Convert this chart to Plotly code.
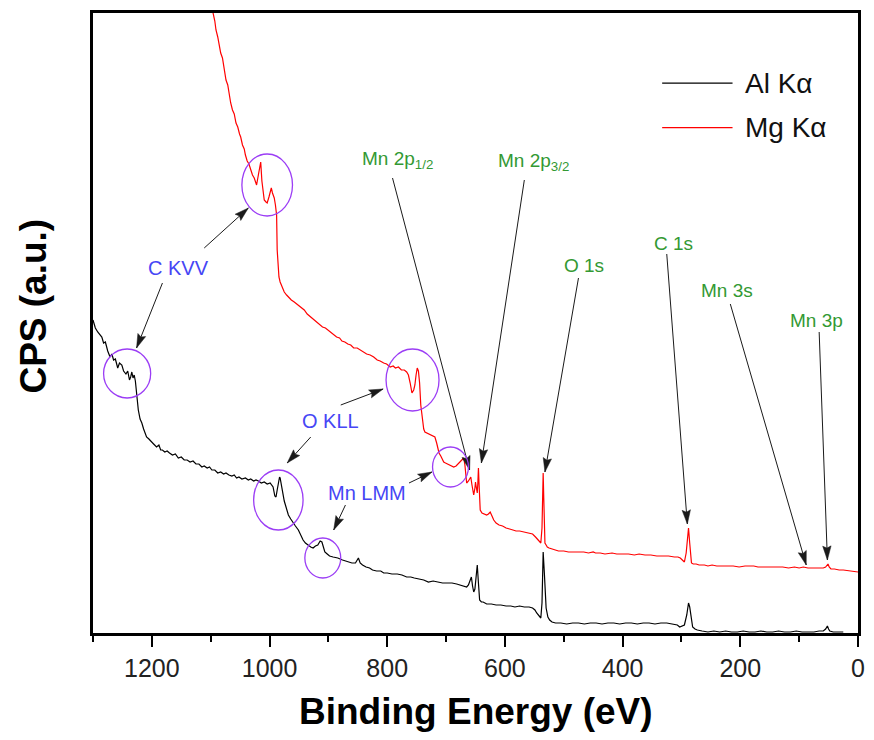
import math
import plotly.graph_objects as go

# ---- Survey spectra (binding energy in eV, intensity in arbitrary CPS units) ----
al_be = [1300, 1296, 1292, 1288, 1285, 1282, 1279, 1275, 1271, 1268, 1265, 1262, 1258, 1255, 1251,
         1248, 1244, 1241, 1238, 1236, 1234, 1232, 1230, 1228, 1226, 1223, 1220, 1217, 1214, 1212,
         1209, 1205, 1201, 1197, 1192, 1188, 1185, 1182, 1178, 1174, 1170, 1165, 1160, 1155, 1150,
         1145, 1140, 1135, 1130, 1125, 1120, 1115, 1111, 1106, 1102, 1098, 1093, 1088, 1083, 1078,
         1074, 1069, 1064, 1060, 1056, 1052, 1047, 1041, 1036, 1032, 1027, 1023, 1019, 1014, 1009,
         1004, 999, 996, 994, 991, 989, 987, 985, 983, 982, 980, 978, 975, 973, 970, 968, 964, 961,
         956, 951, 947, 943, 939, 935, 930, 926, 922, 918, 914, 911, 908, 906, 902, 898, 892, 884,
         876, 867, 860, 854, 851, 849, 846, 842, 836, 830, 825, 818, 811, 806, 800, 792, 783, 775,
         767, 760, 754, 746, 738, 730, 722, 714, 706, 699, 690, 682, 675, 669, 665, 662, 660, 657,
         655, 653, 651, 649, 647, 645, 643, 640, 637, 631, 623, 615, 607, 598, 590, 583, 575, 567,
         559, 553, 549, 546, 542, 539, 537, 535, 533, 532, 530, 527, 524, 520, 514, 505, 495, 485,
         475, 465, 455, 445, 435, 425, 415, 405, 395, 385, 375, 365, 355, 345, 335, 325, 315, 307,
         303, 299, 295, 291, 288, 286, 285, 283, 281, 277, 273, 265, 255, 245, 235, 225, 215, 205,
         195, 185, 175, 165, 155, 145, 135, 125, 115, 105, 95, 85, 75, 66, 59, 55, 52, 50, 48, 42,
         34, 25]
al_cps = [313, 305, 301, 298, 296, 290, 291, 282, 276, 279, 273, 274, 265, 270, 268,
          262, 259, 262, 253, 256, 261, 255, 258, 252, 240, 223, 214, 210, 204, 201,
          196, 194, 191, 189, 186, 188, 183, 183, 181, 182, 180, 178, 179, 175, 176,
          173, 173, 171, 172, 169, 169, 166, 167, 165, 166, 163, 163, 160, 161, 159,
          160, 158, 157, 158, 155, 156, 154, 155, 153, 154, 152, 153, 152, 150, 151,
          149, 150, 148, 146, 137, 136, 143, 150, 156, 155, 147, 140, 132, 128, 121, 118, 114, 111,
          107, 103, 98, 93, 90, 88, 86, 85, 87, 88, 92, 91, 85, 81, 79, 77, 76, 75,
          73, 71, 70, 70, 74, 75, 70, 68, 66, 65, 63, 62, 62, 60, 60, 59, 59, 58,
          56, 56, 55, 54, 53, 51, 52, 51, 50, 50, 50, 49, 48, 47, 46, 48, 52, 56,
          47, 41, 44, 55, 68, 50, 33, 31, 31, 29, 29, 28, 28, 27, 27, 26, 27, 26,
          26, 25, 23, 20, 17, 15, 30, 81, 60, 43, 25, 16, 13, 11, 10, 10, 9, 10,
          10, 9, 10, 10, 9, 10, 10, 9, 10, 10, 9, 10, 10, 9, 10, 10, 9, 8,
          6, 7, 8, 18, 30, 26, 21, 12, 6, 4, 3, 2, 1, 2, 1, 2, 1, 1,
          2, 1, 1, 2, 1, 1, 2, 1, 1, 2, 1, 1, 1, 2, 2, 4, 7, 4, 2, 1,
          1, 1]

mg_be = [1102, 1096, 1093, 1091, 1088, 1085, 1083, 1080, 1077, 1074, 1071, 1068, 1066, 1063, 1060,
         1057, 1054, 1051, 1049, 1046, 1043, 1041, 1038, 1035, 1032, 1029, 1026, 1024, 1022, 1019,
         1017, 1015, 1013, 1011, 1009, 1006, 1004, 1001, 999, 997, 995, 992, 990, 988, 987, 985,
         984, 982, 979, 975, 971, 968, 963, 958, 951, 946, 941, 936, 930, 925, 920, 915, 910, 905,
         901, 896, 891, 886, 881, 877, 872, 867, 862, 857, 851, 845, 840, 835, 829, 823, 817, 812,
         806, 801, 795, 790, 786, 781, 776, 771, 767, 764, 761, 758, 755, 753, 751, 749, 747, 745,
         743, 740, 738, 736, 733, 730, 727, 723, 719, 716, 714, 712, 709, 706, 704, 701, 698, 695,
         691, 687, 683, 680, 677, 673, 670, 668, 666, 665, 662, 660, 658, 656, 654, 653, 651, 650,
         649, 647, 646, 645, 644, 642, 639, 636, 633, 631, 628, 625, 622, 619, 615, 610, 604, 598,
         592, 587, 581, 575, 567, 559, 553, 548, 545, 542, 539, 537, 536, 535, 534, 533, 532, 530,
         528, 525, 520, 515, 509, 500, 492, 483, 475, 466, 458, 450, 446, 438, 430, 422, 418, 410,
         400, 390, 380, 372, 362, 352, 342, 332, 322, 312, 306, 302, 298, 295, 292, 290, 288, 286,
         285, 283, 280, 275, 270, 265, 261, 255, 248, 240, 232, 222, 212, 202, 192, 182, 177, 170,
         160, 150, 138, 128, 118, 108, 100, 93, 85, 75, 66, 59, 55, 52, 51, 49, 46, 40, 32, 25,
         15, 8, 0]
mg_cps = [660, 620, 612, 603, 596, 586, 580, 575, 562, 553, 548, 536, 530, 523, 519,
          510, 506, 499, 496, 488, 484, 478, 472, 469, 463, 458, 455, 450, 448, 458,
          465, 471, 452, 440, 433, 431, 430, 436, 441, 445, 440, 435, 428, 418, 383, 363,
          356, 351, 346, 341, 338, 336, 333, 331, 328, 325, 323, 319, 316, 313, 311, 308, 306, 305,
          303, 300, 298, 296, 295, 292, 291, 289, 288, 285, 285, 283, 281, 279, 278, 276, 273, 272,
          270, 269, 266, 267, 265, 266, 263, 263, 261, 258, 250, 240, 243, 248, 258, 265, 262, 250,
          228, 212, 204, 201, 200, 199, 198, 197, 196, 190, 186, 180, 177, 174, 171, 170, 169, 168,
          167, 166, 167, 169, 171, 174, 175, 168, 155, 150, 152, 155, 156, 148, 140, 138, 145, 151,
          147, 140, 150, 165, 150, 123, 120, 119, 118, 118, 119, 121, 117, 113, 110, 108, 107, 105,
          104, 103, 102, 102, 101, 100, 99, 96, 94, 92, 90, 105, 130, 160, 135, 100, 90, 88,
          86, 85, 84, 83, 82, 82, 81, 81, 81, 81, 80, 81, 80, 80, 79, 80, 80, 79,
          79, 79, 78, 79, 78, 78, 77, 77, 77, 76, 76, 75, 73, 71, 80, 95, 105, 90,
          80, 70, 69, 69, 68, 68, 68, 67, 68, 67, 67, 67, 67, 66, 67, 67, 67, 66,
          66, 66, 66, 66, 65, 66, 65, 66, 65, 65, 65, 65, 66, 68, 69, 66, 64, 64, 63, 63,
          62, 62, 61]

# ---- Peak labels: (text, label BE, label CPS, arrow tail BE, tail CPS, arrow tip BE, tip CPS) ----
core_labels = [
    ("Mn 2p<sub>1/2</sub>", 783, 473, 791, 455, 660, 163),
    ("Mn 2p<sub>3/2</sub>", 551, 471, 567, 453, 640, 170),
    ("O 1s", 466, 368, 475, 355, 532, 161),
    ("C 1s", 313, 390, 325, 379, 290, 109),
    ("Mn 3s", 222, 343, 217, 329, 88, 68),
    ("Mn 3p", 71, 313, 66, 301, 52, 73),
]

# Auger features: label text/position, plus arrows (tail -> tip) and ellipses (BE0, BE1, CPS0, CPS1)
auger_labels = [("C KVV", 1155, 365), ("O KLL", 896, 212), ("Mn LMM", 835, 140)]
auger_arrows = [
    (1111, 385, 1036, 425), (1182, 350, 1226, 285),
    (879, 228, 807, 244), (930, 196, 970, 170),
    (763, 150, 724, 161), (871, 128, 891, 103),
]
auger_rings = [
    (1047, 961, 417, 479), (1282, 1202, 235, 284),
    (802, 712, 222, 284), (1027, 943, 103, 163),
    (723, 662, 146, 186), (940, 879, 55, 95),
]

W, H = 874, 740
ML, MR, MT, MB = 93, 9, 13, 107
X_RANGE = [1300, 0]
Y_RANGE = [0, 620]
px_per_ev = (W - ML - MR) / (X_RANGE[0] - X_RANGE[1])
px_per_cps = (H - MT - MB) / (Y_RANGE[1] - Y_RANGE[0])

GREEN = "#339933"
BLUE = "#4646F5"
RING = "#9B3DF5"
ARROW = "#1a1a1a"
FONT = "Liberation Sans, Arial, sans-serif"

fig = go.Figure()
fig.add_trace(go.Scatter(x=al_be, y=al_cps, mode="lines", name="Al K\u03b1",
                         line=dict(color="#000000", width=1.2), showlegend=False))
fig.add_trace(go.Scatter(x=mg_be, y=mg_cps, mode="lines", name="Mg K\u03b1",
                         line=dict(color="#FF0000", width=1.2), showlegend=False))

shapes = []
annotations = []


def add_arrow(x0, y0, x1, y1):
    """Thin line from (x0, y0) to the tip (x1, y1) with a slim filled head."""
    shapes.append(dict(type="line", xref="x", yref="y", x0=x0, y0=y0, x1=x1, y1=y1,
                       line=dict(color=ARROW, width=1)))
    dx = -(x1 - x0) * px_per_ev          # x axis is reversed
    dy = (y1 - y0) * px_per_cps
    n = math.hypot(dx, dy)
    ux, uy = dx / n, dy / n
    length, half = 14.0, 4.2
    bx, by = -ux * length, -uy * length
    nx, ny = -uy * half, ux * half
    path = (f"M0,0 L{bx + nx:.2f},{by + ny:.2f} L{bx * 0.85:.2f},{by * 0.85:.2f} "
            f"L{bx - nx:.2f},{by - ny:.2f} Z")
    shapes.append(dict(type="path", xref="x", yref="y", xsizemode="pixel", ysizemode="pixel",
                       xanchor=x1, yanchor=y1, path=path,
                       fillcolor=ARROW, line=dict(color=ARROW, width=0.5)))


for text, lx, ly, tx, ty, hx, hy in core_labels:
    annotations.append(dict(x=lx, y=ly, xref="x", yref="y", text=text, showarrow=False,
                            font=dict(family=FONT, size=19, color=GREEN)))
    add_arrow(tx, ty, hx, hy)

for text, lx, ly in auger_labels:
    annotations.append(dict(x=lx, y=ly, xref="x", yref="y", text=text, showarrow=False,
                            font=dict(family=FONT, size=20, color=BLUE)))
for tx, ty, hx, hy in auger_arrows:
    add_arrow(tx, ty, hx, hy)
for x0, x1, y0, y1 in auger_rings:
    shapes.append(dict(type="circle", xref="x", yref="y", x0=x0, x1=x1, y0=y0, y1=y1,
                       line=dict(color=RING, width=1.3)))

# Legend drawn as short line samples with labels in the upper right
legend_items = [("Al K\u03b1", "#000000", 0.887), ("Mg K\u03b1", "#FF0000", 0.815)]
for label, color, yp in legend_items:
    shapes.append(dict(type="line", xref="paper", yref="paper", x0=0.744, x1=0.836, y0=yp, y1=yp,
                       line=dict(color=color, width=1.2)))
    annotations.append(dict(x=0.850, y=yp, xref="paper", yref="paper", text=label,
                            xanchor="left", yanchor="middle", showarrow=False,
                            font=dict(family=FONT, size=28, color="#111111")))

# Axis titles
annotations.append(dict(x=0.5, y=-0.127, xref="paper", yref="paper", text="Binding Energy (eV)",
                        showarrow=False, xanchor="center", yanchor="middle",
                        font=dict(family=FONT, size=37, color="#000000", weight="bold")))
annotations.append(dict(x=-0.078, y=0.527, xref="paper", yref="paper", text="CPS (a.u.)",
                        showarrow=False, textangle=-90, xanchor="center", yanchor="middle",
                        font=dict(family=FONT, size=37, color="#000000", weight="bold")))

fig.update_layout(
    width=W, height=H,
    margin=dict(l=ML, r=MR, t=MT, b=MB, pad=0),
    paper_bgcolor="white", plot_bgcolor="white",
    shapes=shapes, annotations=annotations,
    showlegend=False,
)
fig.update_xaxes(
    range=X_RANGE, autorange=False, tick0=0, dtick=200,
    ticks="outside", ticklen=11, tickwidth=2, tickcolor="#000000",
    minor=dict(dtick=100, ticks="outside", ticklen=6, tickwidth=2, tickcolor="#000000"),
    showline=True, linewidth=2.5, linecolor="#000000", mirror=True,
    showgrid=False, zeroline=False,
    tickfont=dict(family=FONT, size=25, color="#222222"),
)
fig.update_yaxes(
    range=Y_RANGE, autorange=False, showticklabels=False, ticks="",
    showline=True, linewidth=2.5, linecolor="#000000", mirror=True,
    showgrid=False, zeroline=False,
)

fig.write_html("out.html")
